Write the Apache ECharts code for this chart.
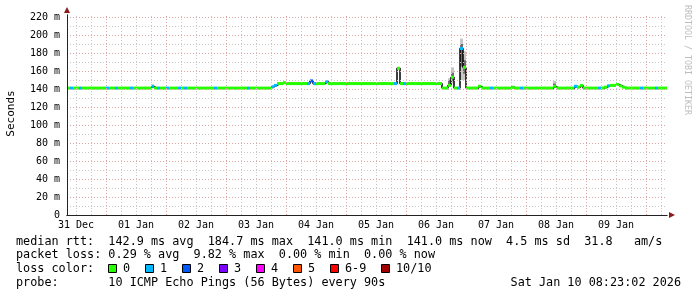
<!DOCTYPE html>
<html><head><meta charset="utf-8">
<script src="https://cdn.jsdelivr.net/npm/echarts@6/dist/echarts.min.js"></script>
<style>html,body{margin:0;padding:0;background:#fff}#c{width:697px;height:297px}</style>
</head><body><div id="c"></div>
<script>
// time: hours since 31 Dec 00:00; graph starts 31 Dec 08:23:02
const startHour = 8 + 23 / 60 + 2 / 3600;
const stepHours = 1.2;           // one sample per 72 minutes
const spanHours = 240;

// median rtt per sample (ms)
const medianMs = [
  141,141,141,141,141,141,141,141,141,141,141,141,141,141,141,141,141,141,141,141,
  141,141,141,141,141,141,141,141,143,141,141,141,141,141,141,141,141,141,141,141,
  141,141,141,141,141,141,141,141,141,141,141,141,141,141,141,141,141,141,141,141,
  141,141,141,141,141,141,141,141,142.5,144,146,146,147,146,146,146,146,146,146,146,
  146,149,146,146,146,146,148,146,146,146,146,146,146,146,146,146,146,146,146,146,
  146,146,146,146,146,146,146,146,146,146,163,146,146,146,146,146,146,146,146,146,
  146,146,146,146,146,141,141,144,153,141,141,185,164,141,141,141,141,143,141,141,
  141,141,141,141,141,141,141,141,142,141,141,141,141,141,141,141,141,141,141,141,
  141,141,143,141,141,141,141,141,141,143,142,144,141,141,141,141,141,141,141,142,
  143.5,144,144,145,143.5,142,141,141,141,141,141,141,141,141,141,141,141,141,141,141
];
// lost pings (of 10) per sample
const lossCount = [
  0,1,0,0,1,0,0,0,0,0,0,0,0,1,0,0,1,0,0,0,
  0,1,0,0,0,0,0,0,1,0,1,0,0,1,0,0,0,1,0,1,
  0,0,0,0,0,0,0,0,0,1,0,0,0,0,0,0,0,0,0,0,
  1,0,0,0,0,0,0,0,1,1,0,0,0,0,0,0,0,0,0,0,
  1,2,1,0,0,0,1,0,0,0,0,0,0,0,0,0,0,0,0,0,
  0,0,0,0,0,0,0,0,0,1,0,0,1,0,0,0,0,0,0,0,
  0,0,0,0,0,0,0,0,0,0,1,1,0,0,0,0,0,0,0,0,
  0,1,0,0,0,0,0,0,0,0,0,1,0,0,0,0,0,0,0,0,
  0,0,0,0,0,0,0,0,0,1,0,0,0,0,0,0,0,1,0,0,
  1,0,0,0,0,0,0,0,0,0,0,1,0,0,0,0,1,0,0,0
];
// smoke (ping spread) where visible
const smokeIdx   = [28, 127, 128, 131, 132, 162];
const smokeLo    = [141, 143, 146, 150, 150, 141];
const smokeHi    = [145, 152, 164, 196, 182, 149];
const smokeInLo  = [142, 144, 149, 165, 157, 142];
const smokeInHi  = [144, 150, 158, 190, 172, 146];

const dayLabels = ['31 Dec','01 Jan','02 Jan','03 Jan','04 Jan','05 Jan','06 Jan','07 Jan','08 Jan','09 Jan'];
const dayLabelHours = [12, 36, 60, 84, 108, 132, 156, 180, 204, 228];
const yTickValues = [0, 20, 40, 60, 80, 100, 120, 140, 160, 180, 200, 220];

const lossColors = ['#26ff00','#00b8ff','#0059ff','#7e00ff','#ff00ff','#ff5500','#ff0000','#a10000'];
const lossLabels = ['0','1','2','3','4','5','6-9','10/10'];

const statLine1 = 'median rtt:  142.9 ms avg  184.7 ms max  141.0 ms min  141.0 ms now  4.5 ms sd  31.8   am/s';
const statLine2 = 'packet loss: 0.29 % avg  9.82 % max  0.00 % min  0.00 % now';
const statLine3 = 'loss color:';
const statLine4 = 'probe:       10 ICMP Echo Pings (56 Bytes) every 90s';
const stampText = 'Sat Jan 10 08:23:02 2026';

const mono = '"DejaVu Sans Mono", monospace';
const MINOR = '#c9c9c9', MAJOR = '#dba5a5';

function lossClass(n) { return n >= 10 ? 7 : (n >= 6 ? 6 : n); }

const sampleTime = medianMs.map((v, i) => startHour + i * stepHours);
const lineData = medianMs.map((v, i) => [sampleTime[i], v]);
lineData.push([startHour + medianMs.length * stepHours, medianMs[medianMs.length - 1]]);
const segData = medianMs.map((v, i) => [sampleTime[i], v, lossCount[i]]);
const smokeData = smokeIdx.map((k, j) => [sampleTime[k], smokeLo[j], smokeHi[j], smokeInLo[j], smokeInHi[j]]);

const gridMarks = [];
for (let h = 12; h < startHour + spanHours; h += 6) {
  gridMarks.push({ xAxis: h, lineStyle: { color: h % 24 === 0 ? MAJOR : MINOR } });
}
for (let v = 10; v <= 220; v += 10) {
  gridMarks.push({ yAxis: v, lineStyle: { color: v % 20 === 0 ? MAJOR : MINOR } });
}

const graphics = [];
const lines = [statLine1, statLine2, statLine3, statLine4];
const rowY = [241.5, 255.2, 269, 283];
lines.forEach((s, i) => graphics.push({
  type: 'text', x: 16, y: rowY[i],
  style: { text: s, font: '11.8px ' + mono, fill: '#000', textAlign: 'left', textVerticalAlign: 'middle' }
}));
graphics.push({ type: 'text', x: 681, y: rowY[3],
  style: { text: stampText, font: '11.8px ' + mono, fill: '#000', textAlign: 'right', textVerticalAlign: 'middle' } });
const boxX = [108.5, 145.5, 182.5, 219.5, 256.5, 293.5, 330.5, 381.5];
lossLabels.forEach((lab, k) => {
  graphics.push({ type: 'rect', shape: { x: boxX[k], y: 264.5, width: 8, height: 8 },
    style: { fill: lossColors[k], stroke: '#000', lineWidth: 1 } });
  graphics.push({ type: 'text', x: boxX[k] + 14.5, y: rowY[2],
    style: { text: lab, font: '11.8px ' + mono, fill: '#000', textAlign: 'left', textVerticalAlign: 'middle' } });
});
graphics.push({ type: 'text', x: 11.5, y: 113.5, rotation: Math.PI / 2,
  style: { text: 'Seconds', font: '11px ' + mono, fill: '#000', textAlign: 'center', textVerticalAlign: 'middle' } });
graphics.push({ type: 'text', x: 687, y: 5, rotation: -Math.PI / 2,
  style: { text: 'RRDTOOL / TOBI OETIKER', font: '8.3px ' + mono, fill: '#bdbdbd', textAlign: 'left', textVerticalAlign: 'middle' } });

const chart = echarts.init(document.getElementById('c'), null, { renderer: 'canvas', width: 697, height: 297 });
chart.setOption({
  animation: false,
  backgroundColor: '#ffffff',
  grid: { left: 67, top: 15, width: 600, height: 200, containLabel: false },
  xAxis: [
    { type: 'value', position: 'bottom', min: startHour, max: startHour + spanHours, z: 5,
      axisLine: { show: true, onZero: false, lineStyle: { color: '#222', width: 1 } },
      axisTick: { show: false }, splitLine: { show: false },
      axisLabel: { customValues: dayLabelHours, formatter: v => dayLabels[dayLabelHours.indexOf(v)] || '',
        fontFamily: mono, fontSize: 10, color: '#000', margin: 5 } },
    { type: 'value', position: 'bottom', offset: 0, min: startHour, max: startHour + spanHours, z: 4,
      axisLine: { show: true, onZero: false, symbol: ['none', 'triangle'], symbolSize: [6, 6], symbolOffset: [0, 5],
        lineStyle: { color: '#8b1a1a', width: 1 } },
      axisTick: { show: false }, splitLine: { show: false }, axisLabel: { show: false } }
  ],
  yAxis: [
    { type: 'value', position: 'left', min: 0, max: 222.2, z: 5,
      axisLine: { show: true, onZero: false, lineStyle: { color: '#222', width: 1 } },
      axisTick: { show: false }, splitLine: { show: false },
      axisLabel: { customValues: yTickValues, formatter: v => v === 0 ? '0' : v + ' m',
        fontFamily: mono, fontSize: 10, color: '#000', margin: 7 } },
    { type: 'value', position: 'left', offset: 0, min: 0, max: 222.2, z: 4,
      axisLine: { show: true, onZero: false, symbol: ['none', 'triangle'], symbolSize: [6, 6], symbolOffset: [0, 5],
        lineStyle: { color: '#8b1a1a', width: 1 } },
      axisTick: { show: false }, splitLine: { show: false }, axisLabel: { show: false } }
  ],
  series: [
    { type: 'line', data: [], z: 1, silent: true,
      markLine: { silent: true, symbol: ['none', 'none'], label: { show: false },
        lineStyle: { type: [1, 2], width: 1 }, emphasis: { disabled: true }, data: gridMarks } },
    { type: 'custom', z: 2, silent: true, data: smokeData,
      renderItem: (params, api) => {
        const t0 = api.value(0), t1 = t0 + stepHours;
        const a = api.coord([t0, api.value(2)]), b = api.coord([t1, api.value(1)]);
        const c = api.coord([t0, api.value(4)]), d = api.coord([t1, api.value(3)]);
        return { type: 'group', children: [
          { type: 'rect', shape: { x: a[0], y: a[1], width: b[0] - a[0], height: b[1] - a[1] }, style: { fill: '#c6c6c6' } },
          { type: 'rect', shape: { x: c[0], y: c[1], width: d[0] - c[0], height: d[1] - c[1] }, style: { fill: '#6e6e6e' } }
        ] };
      } },
    { type: 'line', z: 3, silent: true, data: lineData, step: 'end', showSymbol: false, symbol: 'none',
      lineStyle: { color: '#000', width: 1.5 } },
    { type: 'custom', z: 4, silent: true, data: segData,
      renderItem: (params, api) => {
        const t0 = api.value(0), v = api.value(1);
        const a = api.coord([t0, v]), b = api.coord([t0 + stepHours, v]);
        return { type: 'rect', shape: { x: a[0], y: a[1] - 1.5, width: b[0] - a[0], height: 3 },
          style: { fill: lossColors[lossClass(api.value(2))] } };
      } }
  ],
  graphic: graphics
});
</script>
</body></html>
